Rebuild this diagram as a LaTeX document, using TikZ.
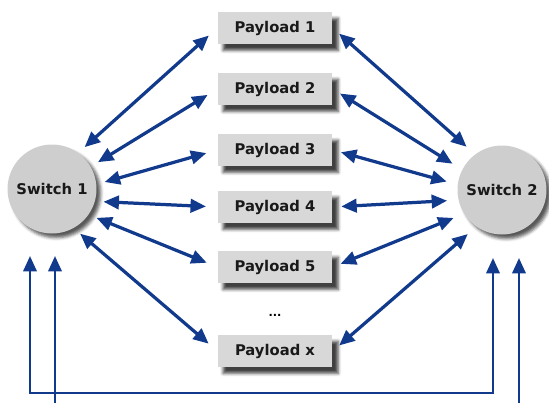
\documentclass[tikz,border=0pt]{standalone}
\usepackage{fontspec}
\setmainfont{DejaVu Sans}
\usepackage{tikz}
\usetikzlibrary{arrows.meta,shadows.blur}
\definecolor{linkblue}{RGB}{18,58,140}
\definecolor{boxgray}{RGB}{216,216,216}
\definecolor{switchgray}{RGB}{206,206,206}
\tikzstyle{switch}=[circle,fill=switchgray,minimum size=89\unitlength,inner sep=0pt,font=\fontsize{10.5}{12}\selectfont\bfseries,text=black!90,blur shadow={shadow xshift=3pt,shadow yshift=-3pt,shadow opacity=65}]
\tikzstyle{payload}=[rectangle,fill=boxgray,minimum width=115\unitlength,minimum height=32\unitlength,inner sep=0pt,font=\fontsize{10.5}{12}\selectfont\bfseries,text=black!90,blur shadow={shadow xshift=4pt,shadow yshift=-4.5pt,shadow opacity=75}]
\tikzstyle{link}=[draw=linkblue,line width=2.3pt,{Triangle[length=11pt,width=9.5pt]}-{Triangle[length=11pt,width=9.5pt]},shorten <=6pt,shorten >=8pt]
\tikzstyle{feed}=[draw=linkblue,line width=1.9pt]
\setlength{\unitlength}{0.025cm}

\begin{document}
\begin{tikzpicture}[x=0.025cm,y=-0.025cm]
\useasboundingbox (0,0) rectangle (549,403);
\node[switch] at (52, 189) (s1) {Switch 1};
\node[switch] at (502, 190) (s2) {Switch 2};
\node[payload] at (275, 28) (p1) {Payload 1};
\node[payload] at (275, 89) (p2) {Payload 2};
\node[payload] at (275, 150) (p3) {Payload 3};
\node[payload] at (275, 207) (p4) {Payload 4};
\node[payload] at (275, 267) (p5) {Payload 5};
\node[font=\fontsize{8}{10}\selectfont\bfseries] at (275, 315) (dots) {...};
\node[payload] at (275, 351) (px) {Payload x};
% switch 1 to payloads
\draw[link] (s1.54) -- (p1.west);
\draw[link] (s1.30) -- (p2.west);
\draw[link] (s1.6) -- (p3.west);
\draw[link] (s1.-16) -- (p4.west);
\draw[link] (s1.-35) -- (p5.west);
\draw[link] (s1.-61) -- (px.west);
% payloads to switch 2
\draw[link] (p1.east) -- (s2.127);
\draw[link] (p2.east) -- (s2.153);
\draw[link] (p3.east) -- (s2.173);
\draw[link] (p4.east) -- (s2.193);
\draw[link] (p5.east) -- (s2.212);
\draw[link] (px.east) -- (s2.235);
% lines under the switches
\coordinate (t1) at (30, 256);
\coordinate (t2) at (55, 256);
\coordinate (t3) at (493, 258);
\coordinate (t4) at (519, 258);
\coordinate (c1) at (30, 393);
\coordinate (b2) at (55, 403);
\coordinate (b4) at (519, 403);
\draw[feed,{Triangle[length=11pt,width=9.5pt]}-{Triangle[length=11pt,width=9.5pt]}] (t3) |- (c1) -- (t1);
\draw[feed,-{Triangle[length=11pt,width=9.5pt]}] (b2) -- (t2);
\draw[feed,-{Triangle[length=11pt,width=9.5pt]}] (b4) -- (t4);
\end{tikzpicture}
\end{document}
